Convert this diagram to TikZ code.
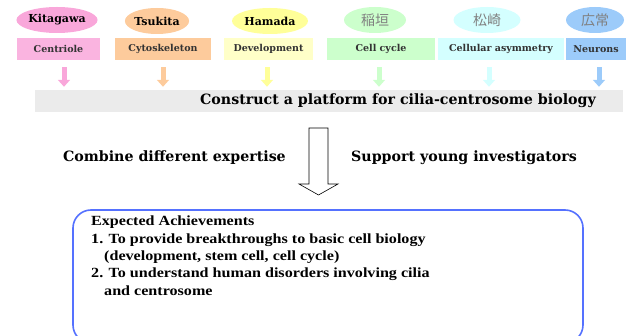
\documentclass[tikz,border=0pt]{standalone}
\usepackage{fontspec}
\usetikzlibrary{shapes.geometric,arrows.meta}
\newfontfamily\labelfont{DejaVu Serif}
\newfontfamily\notefont[FakeStretch=1.15]{Liberation Serif}
\newfontfamily\jpfont{Noto Sans CJK JP}
\definecolor{kitapink}{HTML}{F9A7DA}
\definecolor{tsukipeach}{HTML}{FDCB9C}
\definecolor{hamayellow}{HTML}{FFFF99}
\definecolor{hamapale}{HTML}{FFFFC8}
\definecolor{inagreen}{HTML}{CCFFCC}
\definecolor{matscyan}{HTML}{D4FFFF}
\definecolor{hiroblue}{HTML}{9CCBFA}
\definecolor{bargray}{HTML}{EBEBEB}
\definecolor{goalblue}{HTML}{5571FF}
\begin{document}
\begin{tikzpicture}[x=1pt, y=-1pt,
    member/.style={ellipse, minimum height=26pt, inner sep=0pt, font=\labelfont\bfseries\fontsize{11}{13}\selectfont},
    kanji/.style={member, text=black!50, font=\jpfont\fontsize{14}{16}\selectfont},
    topic/.style={minimum height=22pt, inner sep=0pt, font=\labelfont\bfseries\fontsize{9.5}{11}\selectfont, text=black!80},
    feed/.style={line width=5pt, -{Triangle[width=12pt, length=7pt]}, shorten <=7pt, shorten >=3pt},
    slogan/.style={font=\labelfont\bfseries\fontsize{14.2}{16}\selectfont}]
    \useasboundingbox (0, 0) rectangle (632, 336);
    \clip (0, 0) rectangle (632, 336);

    % members
    \node [member, fill=kitapink, minimum width=80pt] (kitagawa) at (57, 20) {Kitagawa};
    \node [member, fill=tsukipeach, minimum width=60pt] (tsukita) at (157, 21) {Tsukita};
    \node [member, fill=hamayellow, minimum width=76pt] (hamada) at (270, 21) {Hamada};
    \node [kanji, fill=inagreen, minimum width=62pt] (inagaki) at (375, 20) {稲垣};
    \node [kanji, fill=matscyan, minimum width=67pt] (matsuzaki) at (487, 20) {松崎};
    \node [kanji, fill=hiroblue, minimum width=58pt] (hirotsune) at (595, 20) {広常};

    % research topics
    \node [topic, fill=kitapink!85, minimum width=83pt] (centriole) at (58.5, 49) {Centriole};
    \node [topic, fill=tsukipeach, minimum width=96pt] (cytoskeleton) at (163, 49) {Cytoskeleton};
    \node [topic, fill=hamapale, minimum width=89pt] (development) at (268.5, 49) {Development};
    \node [topic, fill=inagreen, minimum width=108pt] (cellcycle) at (381, 49) {Cell cycle};
    \node [topic, fill=matscyan, minimum width=126pt] (asymmetry) at (501, 49) {Cellular asymmetry};
    \node [topic, fill=hiroblue, minimum width=60pt] (neurons) at (596, 49) {Neurons};

    % platform
    \node [fill=bargray, minimum width=588pt, minimum height=22pt, inner sep=0pt] (platform) at (329, 101) {};
    \node [slogan, inner sep=0pt] (aim) at (398, 101) {Construct a platform for cilia-centrosome biology};

    \foreach \topic/\dx/\col in {centriole/5.5/kitapink, cytoskeleton/0/tsukipeach, development/-1.5/hamayellow,
        cellcycle/-2/inagreen, asymmetry/-12/matscyan, neurons/3/hiroblue}
        \draw [feed, \col] ([xshift=\dx pt]\topic.south) -- ([xshift=\dx pt]\topic.south |- platform.north);

    % big arrow
    \draw [line width=0.6pt, fill=white] (309, 128) -- (328, 128) -- (328, 184) -- (338, 184)
        -- (318.5, 195) -- (299, 184) -- (309, 184) -- cycle;
    \node [slogan, anchor=east, inner sep=0pt] (expertise) at (286, 158) {Combine different expertise};
    \node [slogan, anchor=west, inner sep=0pt] (young) at (351, 158) {Support young investigators};

    % expected achievements
    \node [draw=goalblue, line width=1.6pt, rounded corners=18pt, minimum width=510pt, minimum height=133pt] (goals) at (328, 276.5) {};
    \node [anchor=north west, align=left, inner sep=0pt, font=\notefont\bfseries\fontsize{14}{17.3}\selectfont] (achievements) at (91, 216)
        {Expected Achievements\\
        1. To provide breakthroughs to basic cell biology\\
        \hspace{13pt}(development, stem cell, cell cycle)\\
        2. To understand human disorders involving cilia\\
        \hspace{13pt}and centrosome};
\end{tikzpicture}
\end{document}
